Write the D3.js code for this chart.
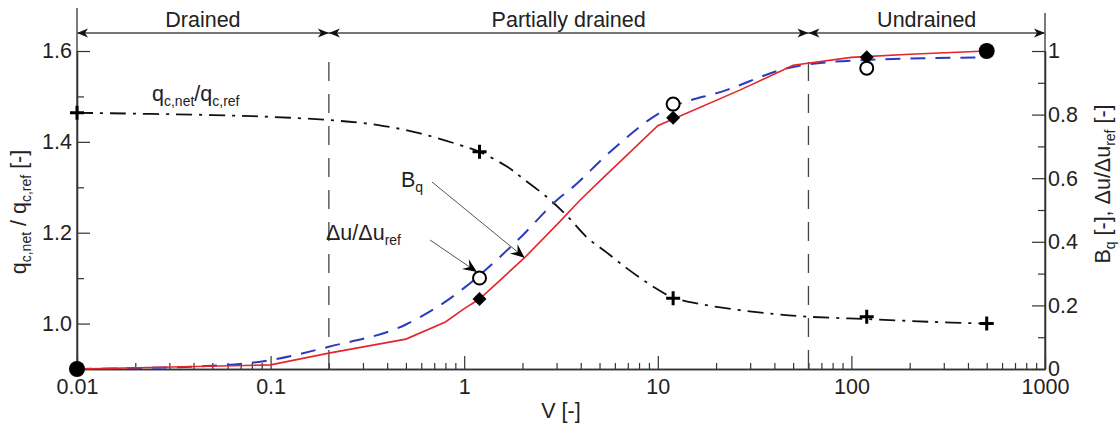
<!DOCTYPE html>
<html>
<head>
<meta charset="utf-8">
<script src="https://cdn.jsdelivr.net/npm/d3@7"></script>
<style>
body { margin: 0; background: #fff; }
text { font-family: "Liberation Sans", Arial, sans-serif; fill: #222; }
</style>
</head>
<body>
<svg id="chart" width="1120" height="428"></svg>
<script>
// qc,net / qc,ref (left axis)
var qcV   = [0.01, 0.05, 0.1, 0.2, 0.36, 0.6, 0.95, 1.2, 1.67, 2, 2.7, 3.4, 4.3, 5.5, 6.9, 8.4, 10, 12, 17, 26, 40, 60, 120, 250, 500];
var qcVal = [1.464, 1.459, 1.455, 1.448, 1.437, 1.418, 1.393, 1.378, 1.345, 1.32, 1.277, 1.237, 1.19, 1.155, 1.122, 1.096, 1.075, 1.057, 1.042, 1.03, 1.021, 1.015, 1.01, 1.004, 1.0];

// Bq (right axis, red)
var bqV   = [0.01, 0.1, 0.2, 0.5, 0.8, 1, 1.2, 2.05, 3.1, 3.95, 5.2, 10, 26.5, 50, 100, 200, 500];
var bqVal = [0, 0.013, 0.05, 0.094, 0.148, 0.19, 0.22, 0.35, 0.462, 0.53, 0.6, 0.765, 0.877, 0.955, 0.98, 0.99, 1.0];

// du/du_ref (right axis, blue dashed)
var duV   = [0.01, 0.05, 0.1, 0.2, 0.5, 1, 1.2, 2, 3.1, 3.5, 5.6, 10.2, 22.6, 50, 120, 500];
var duVal = [0, 0.01, 0.028, 0.07, 0.14, 0.255, 0.295, 0.42, 0.538, 0.563, 0.68, 0.805, 0.877, 0.95, 0.972, 0.98];

// reference markers
var plusV = [0.01, 1.2, 12, 120, 500];
var plusVal = [1.464, 1.378, 1.056, 1.015, 1.0];
var diamondV = [1.2, 12, 120];
var diamondVal = [0.22, 0.79, 0.98];
var openV = [1.2, 12, 120];
var openVal = [0.286, 0.833, 0.946];
var dotV = [0.01, 500];
var dotVal = [0, 1.0];

// drainage regions
var bounds = [0.01, 0.2, 60, 1000];
var regionNames = ["Drained", "Partially drained", "Undrained"];

var xTicks = [0.01, 0.1, 1, 10, 100, 1000];
var xTickLabels = ["0.01", "0.1", "1", "10", "100", "1000"];
var leftTicks = [1.0, 1.2, 1.4, 1.6];
var leftMinor = [1.1, 1.3, 1.5];
var rightTicks = [0, 0.2, 0.4, 0.6, 0.8, 1];
var rightMinor = [0.1, 0.3, 0.5, 0.7, 0.9];

var svg = d3.select("#chart");
var x0 = 77, x1 = 1045, yb = 369;

var x = d3.scaleLog().domain([0.01, 1000]).range([x0, x1]);
var yL = d3.scaleLinear().domain([0.9, 1.6]).range([yb, 51]);
var yR = d3.scaleLinear().domain([0, 1]).range([yb, 51]);

var fs = 21.5;

// minor x ticks
var xMinor = [];
[0.01, 0.1, 1, 10, 100].forEach(function(d) {
    for (var k = 2; k <= 9; k++) xMinor.push(d * k);
});

function styleAxis(g) {
    g.selectAll("path.domain").attr("stroke", "#333").attr("stroke-width", 1.3);
    g.selectAll(".tick line").attr("stroke", "#333").attr("stroke-width", 1.2);
    g.selectAll("text").style("font-size", fs + "px").attr("fill", "#222")
        .style("font-family", '"Liberation Sans", Arial, sans-serif');
}

// bottom axis
var gx = svg.append("g").attr("transform", "translate(0," + yb + ")")
    .call(d3.axisBottom(x).tickValues(xTicks)
        .tickFormat(function(d, i) { return xTickLabels[i]; })
        .tickSizeInner(-13).tickSizeOuter(0).tickPadding(10));
styleAxis(gx);
var gxm = svg.append("g").attr("transform", "translate(0," + yb + ")")
    .call(d3.axisBottom(x).tickValues(xMinor).tickFormat("").tickSizeInner(-6).tickSizeOuter(0));
styleAxis(gxm);

// left axis
var gl = svg.append("g").attr("transform", "translate(" + x0 + ",0)")
    .call(d3.axisLeft(yL).tickValues(leftTicks).tickFormat(d3.format(".1f"))
        .tickSizeInner(-13).tickSizeOuter(0).tickPadding(5));
styleAxis(gl);
var glm = svg.append("g").attr("transform", "translate(" + x0 + ",0)")
    .call(d3.axisLeft(yL).tickValues(leftMinor).tickFormat("").tickSizeInner(-7).tickSizeOuter(0));
styleAxis(glm);
svg.append("line").attr("x1", x0).attr("x2", x0).attr("y1", 8).attr("y2", yb)
    .attr("stroke", "#333").attr("stroke-width", 1.3);

// right axis
var gr = svg.append("g").attr("transform", "translate(" + x1 + ",0)")
    .call(d3.axisRight(yR).tickValues(rightTicks).tickFormat(d3.format("~g"))
        .tickSizeInner(-13).tickSizeOuter(0).tickPadding(3));
styleAxis(gr);
var grm = svg.append("g").attr("transform", "translate(" + x1 + ",0)")
    .call(d3.axisRight(yR).tickValues(rightMinor).tickFormat("").tickSizeInner(-7).tickSizeOuter(0));
styleAxis(grm);
svg.append("line").attr("x1", x1).attr("x2", x1).attr("y1", 13).attr("y2", yb)
    .attr("stroke", "#333").attr("stroke-width", 1.3);

// text with subscripts: parts = [[str, isSub], ...]
function subText(sel, parts, subSize) {
    var shift = 0;
    parts.forEach(function(p) {
        var want = p[1] ? 5 : 0;
        sel.append("tspan")
            .attr("dy", want - shift)
            .style("font-size", (p[1] ? subSize : fs) + "px")
            .text(p[0]);
        shift = want;
    });
    return sel;
}

// axis titles
subText(svg.append("text").attr("text-anchor", "middle")
    .attr("transform", "translate(26,212) rotate(-90)"),
    [["q", 0], ["c,net", 1], [" / q", 0], ["c,ref", 1], [" [-]", 0]], 14);
subText(svg.append("text").attr("text-anchor", "middle")
    .attr("transform", "translate(1110,184) rotate(-90)"),
    [["B", 0], ["q", 1], [" [-], \u0394u/\u0394u", 0], ["ref", 1], [" [-]", 0]], 14);
svg.append("text").attr("x", (x0 + x1) / 2).attr("y", 418).attr("text-anchor", "middle")
    .style("font-size", fs + "px").text("V [-]");

// region arrows
var ay = 33;
svg.append("line").attr("x1", x(0.01)).attr("x2", x(1000)).attr("y1", ay).attr("y2", ay)
    .attr("stroke", "#777").attr("stroke-width", 1.8);

function arrowHead(xt, dir) {
    svg.append("path")
        .attr("d", "M" + xt + "," + ay + "L" + (xt - dir * 11) + "," + (ay - 4.5) +
            "L" + (xt - dir * 8) + "," + ay + "L" + (xt - dir * 11) + "," + (ay + 4.5) + "Z")
        .attr("fill", "#111");
}
for (var r = 0; r < 3; r++) {
    arrowHead(x(bounds[r]), -1);
    arrowHead(x(bounds[r + 1]), 1);
    var cx = (x(bounds[r]) + x(bounds[r + 1])) / 2;
    svg.append("text").attr("x", cx).attr("y", 27).attr("text-anchor", "middle")
        .style("font-size", fs + "px").text(regionNames[r]);
}

// boundary dashed lines
[bounds[1], bounds[2]].forEach(function(b) {
    svg.append("line").attr("x1", x(b)).attr("x2", x(b)).attr("y1", 62).attr("y2", yb)
        .attr("stroke", "#444").attr("stroke-width", 1.3).attr("stroke-dasharray", "19,13");
});

// curves
var lineQc = d3.line().curve(d3.curveCatmullRom.alpha(0.5))
    .x(function(d, i) { return x(qcV[i]); }).y(function(d) { return yL(d); });
svg.append("path").attr("d", lineQc(qcVal)).attr("fill", "none")
    .attr("stroke", "#111").attr("stroke-width", 1.8).attr("stroke-dasharray", "16,7,3,7");

var lineDu = d3.line().curve(d3.curveMonotoneX)
    .x(function(d, i) { return x(duV[i]); }).y(function(d) { return yR(d); });
svg.append("path").attr("d", lineDu(duVal)).attr("fill", "none")
    .attr("stroke", "#2b3bbd").attr("stroke-width", 2).attr("stroke-dasharray", "15,10");

var lineBq = d3.line()
    .x(function(d, i) { return x(bqV[i]); }).y(function(d) { return yR(d); });
svg.append("path").attr("d", lineBq(bqVal)).attr("fill", "none")
    .attr("stroke", "#e3262b").attr("stroke-width", 1.6);

// markers
plusV.forEach(function(v, i) {
    var px = x(v), py = yL(plusVal[i]);
    svg.append("path").attr("d", "M" + (px - 7) + "," + py + "H" + (px + 7) + "M" + px + "," + (py - 7) + "V" + (py + 7))
        .attr("stroke", "#000").attr("stroke-width", 3);
});
diamondV.forEach(function(v, i) {
    var px = x(v), py = yR(diamondVal[i]);
    svg.append("path").attr("d", "M" + px + "," + (py - 7) + "L" + (px + 7) + "," + py + "L" + px + "," + (py + 7) + "L" + (px - 7) + "," + py + "Z")
        .attr("fill", "#000");
});
openV.forEach(function(v, i) {
    svg.append("circle").attr("cx", x(v)).attr("cy", yR(openVal[i])).attr("r", 6.5)
        .attr("fill", "#fff").attr("stroke", "#000").attr("stroke-width", 2);
});
dotV.forEach(function(v, i) {
    svg.append("circle").attr("cx", x(v)).attr("cy", yR(dotVal[i])).attr("r", 8).attr("fill", "#000");
});

// annotations
subText(svg.append("text").attr("x", 152).attr("y", 101),
    [["q", 0], ["c,net", 1], ["/q", 0], ["c,ref", 1]], 14);
subText(svg.append("text").attr("x", 401).attr("y", 187),
    [["B", 0], ["q", 1]], 14);
subText(svg.append("text").attr("x", 326).attr("y", 240),
    [["\u0394u/\u0394u", 0], ["ref", 1]], 14);

function annArrow(xa, ya, xb, yb2) {
    svg.append("line").attr("x1", xa).attr("y1", ya).attr("x2", xb).attr("y2", yb2)
        .attr("stroke", "#555").attr("stroke-width", 1);
    var ang = Math.atan2(yb2 - ya, xb - xa) * 180 / Math.PI;
    svg.append("path").attr("d", "M0,0L-14,-6L-9,0L-14,6Z")
        .attr("transform", "translate(" + xb + "," + yb2 + ") rotate(" + ang + ")")
        .attr("fill", "#000");
}
annArrow(432, 182, x(2.05), yR(0.35));
annArrow(430, 240, 477, 272);
</script>
</body>
</html>
